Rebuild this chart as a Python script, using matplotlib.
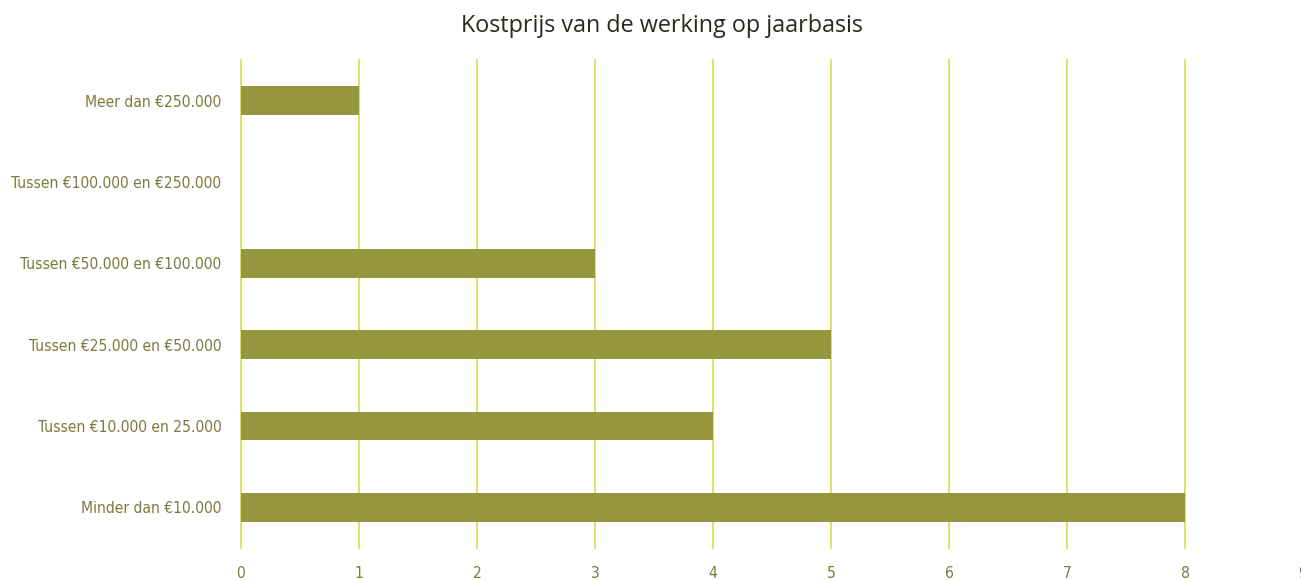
import numpy as np
from matplotlib import pyplot as plt

categories = ['Minder dan €10.000', 'Tussen €10.000 en 25.000', 'Tussen €25.000 en €50.000',
              'Tussen €50.000 en €100.000', 'Tussen €100.000 en €250.000', 'Meer dan €250.000']
counts = [8, 4, 5, 3, 0, 1]
x_ticks = list(range(0, 10))

bar_color = '#96963f'
grid_color = '#dcdc5a'
label_color = '#7a7a3c'

fig = plt.figure(figsize=(13.01, 5.8), dpi=100)
ax = fig.add_axes([241 / 1301, 32 / 580, 1062 / 1301, 488 / 580])

y = np.arange(len(categories))
ax.barh(y, counts, height=0.35, color=bar_color, zorder=3)

ax.set_xlim(0, 9)
ax.set_ylim(-0.5, len(categories) - 0.5)
ax.set_xticks(x_ticks)
ax.set_yticks(y)
ax.set_yticklabels(categories)
ax.xaxis.grid(True, color=grid_color, linewidth=1.3, zorder=0)
for gl in ax.get_xgridlines():
    gl.set_clip_on(False)
ax.tick_params(length=0, colors=label_color)
ax.tick_params(axis='y', pad=14)
ax.tick_params(axis='x', pad=13)
for lab in ax.get_yticklabels() + ax.get_xticklabels():
    lab.set_fontfamily(['DejaVu Sans Condensed', 'DejaVu Sans'])
    lab.set_fontstretch('condensed')
    lab.set_fontsize(11.2)
    lab.set_color(label_color)
for s in ax.spines.values():
    s.set_visible(False)

fig.text(0.509, 0.955, 'Kostprijs van de werking op jaarbasis', ha='center', va='center',
         fontsize=16.8, color='#2a2a20', family=['Open Sans', 'DejaVu Sans'])

fig.savefig('out.png', dpi=100)
